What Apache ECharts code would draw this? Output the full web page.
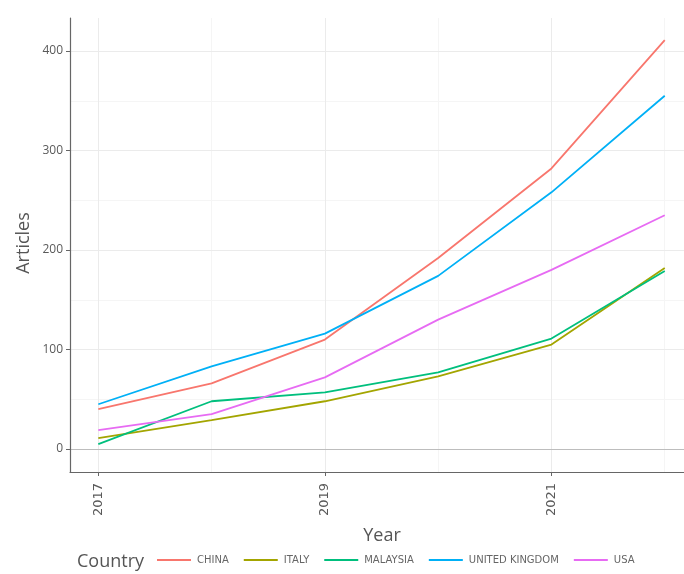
<!DOCTYPE html>
<html><head><meta charset="utf-8">
<script src="https://cdn.jsdelivr.net/npm/echarts@6/dist/echarts.min.js"></script>
<style>html,body{margin:0;padding:0;background:#fff}#c{width:684px;height:574px}</style>
</head><body><div id="c"></div>
<script>
const years = [2017, 2018, 2019, 2020, 2021, 2022];
const countries = ['CHINA', 'ITALY', 'MALAYSIA', 'UNITED KINGDOM', 'USA'];
const china = [40, 66, 110, 192, 282, 411];
const italy = [11, 29, 48, 73, 105, 182];
const malaysia = [5, 48, 57, 77, 111, 179];
const uk = [45, 83, 116, 174, 258, 355];
const usa = [19, 35, 72, 130, 180, 235];
const xTicks = [2017, 2019, 2021];
const yTicks = [0, 100, 200, 300, 400];
const xMinor = [2018, 2020, 2022];
const yMinor = [50, 150, 250, 350];
const colors = ['#F8766D', '#A3A500', '#00BF7D', '#00B0F6', '#E76BF3'];
const values = [china, italy, malaysia, uk, usa];
const font = 'Open Sans, DejaVu Sans, sans-serif';

const series = countries.map((name, i) => ({
  name, type: 'line', showSymbol: false, symbol: 'none',
  data: years.map((y, j) => [y, values[i][j]]),
  lineStyle: { width: 1.8, color: colors[i] }, itemStyle: { color: colors[i] },
  z: 5
}));
series.unshift({
  type: 'line', name: 'grid', data: [], silent: true, z: 1,
  markLine: {
    silent: true, symbol: 'none', label: { show: false }, animation: false,
    data: [
      ...xMinor.map(v => ({ xAxis: v, lineStyle: { color: '#f5f5f5', width: 1, type: 'solid' } })),
      ...yMinor.map(v => ({ yAxis: v, lineStyle: { color: '#f5f5f5', width: 1, type: 'solid' } })),
      ...xTicks.map(v => ({ xAxis: v, lineStyle: { color: '#ebebeb', width: 1, type: 'solid' } })),
      ...yTicks.map(v => ({ yAxis: v, lineStyle: { color: v === 0 ? '#bdbdbd' : '#ebebeb', width: 1, type: 'solid' } }))
    ]
  }
});

const chart = echarts.init(document.getElementById('c'));
chart.setOption({
  animation: false,
  color: colors,
  grid: { left: 70, top: 18, right: 0, bottom: 102, containLabel: false },
  xAxis: {
    type: 'value', min: 2016.75, max: 2022.17, z: 10,
    axisLine: { show: true, onZero: false, lineStyle: { color: '#666', width: 1.2 } },
    axisTick: { show: true, length: 4, customValues: xTicks, lineStyle: { color: '#666' } },
    axisLabel: { customValues: xTicks, rotate: 90, color: '#5a5a5a', fontSize: 13, fontFamily: 'DejaVu Sans', margin: 11, formatter: v => String(v) },
    splitLine: { show: false }
  },
  yAxis: {
    type: 'value', min: -23.1, max: 433.2, z: 10,
    axisLine: { show: true, onZero: false, lineStyle: { color: '#666', width: 1.2 } },
    axisTick: { show: true, length: 4, customValues: yTicks, lineStyle: { color: '#666' } },
    axisLabel: { customValues: yTicks, color: '#5a5a5a', fontSize: 12, fontFamily: font, margin: 7, formatter: v => String(v) },
    splitLine: { show: false }
  },
  legend: {
    data: countries, left: 157, top: 555, padding: 0, itemWidth: 34, itemHeight: 2, itemGap: 15,
    icon: 'rect',
    textStyle: { fontSize: 10, color: '#666', fontFamily: 'DejaVu Sans', padding: [0, 0, 0, 1] }
  },
  graphic: [
    { type: 'text', left: 77, top: 553, style: { text: 'Country', fontSize: 18, fill: '#555', fontFamily: font } },
    { type: 'text', x: 382, y: 536, style: { text: 'Year', fontSize: 18, fill: '#555', fontFamily: font, align: 'center', verticalAlign: 'middle' } },
    { type: 'text', x: 24, y: 243, rotation: Math.PI / 2, style: { text: 'Articles', fontSize: 18, fill: '#555', fontFamily: font, align: 'center', verticalAlign: 'middle' } }
  ],
  series
});
</script></body></html>
